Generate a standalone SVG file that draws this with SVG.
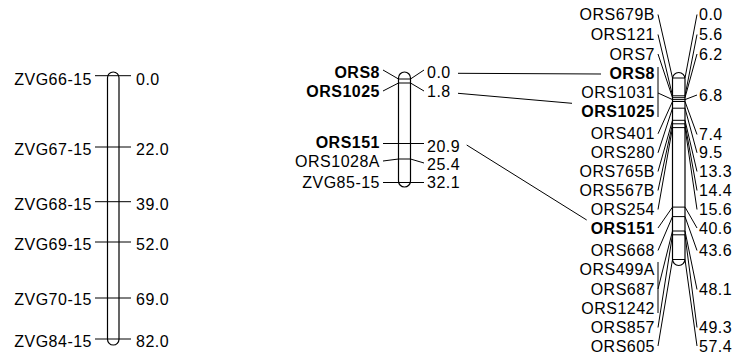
<svg xmlns="http://www.w3.org/2000/svg" width="736" height="357" viewBox="0 0 736 357">
<style>
text{font-family:"Liberation Sans",Arial,sans-serif;font-size:16px;letter-spacing:0.5px;fill:#000}
.b{font-weight:bold}
.e{text-anchor:end}
.chr{fill:#fff;stroke:#000;stroke-width:1.2}
.ln{stroke:#000;stroke-width:1;fill:none}
</style>
<rect width="736" height="357" fill="#fff"/>
<g id="chrom-left">
<rect class="chr" x="107.5" y="72" width="11.5" height="273" rx="5.75"/>
<path class="ln" d="M95 75.7H131M95 147H131M95 201.7H131M95 242H131M95 298H131M95 339H131"/>
<text class="e" x="92" y="84.5">ZVG66-15</text>
<text class="e" x="92" y="155">ZVG67-15</text>
<text class="e" x="92" y="209.5">ZVG68-15</text>
<text class="e" x="92" y="250">ZVG69-15</text>
<text class="e" x="92" y="305">ZVG70-15</text>
<text class="e" x="92" y="346.5">ZVG84-15</text>
<text x="136" y="84.5">0.0</text>
<text x="136" y="155">22.0</text>
<text x="136" y="209.5">39.0</text>
<text x="136" y="250">52.0</text>
<text x="136" y="305">69.0</text>
<text x="136" y="346.5">82.0</text>
</g>
<g id="chrom-mid">
<rect class="chr" x="398.5" y="72" width="12" height="115" rx="6"/>
<path class="ln" d="M383 70L398.5 79H410.5L424 70M383 91L398.5 83H410.5L424 91M383 143.5H424M383 161L398.5 159H410.5L424 163M383 182.5H424"/>
<text class="e b" x="380" y="78.3">ORS8</text>
<text class="e b" x="380" y="96.7">ORS1025</text>
<text class="e b" x="380" y="148.3">ORS151</text>
<text class="e" x="380" y="166.7">ORS1028A</text>
<text class="e" x="380" y="188.3">ZVG85-15</text>
<text x="427" y="78.3">0.0</text>
<text x="427" y="97.3">1.8</text>
<text x="427" y="151.7">20.9</text>
<text x="427" y="170">25.4</text>
<text x="427" y="188.3">32.1</text>
</g>
<g id="chrom-right">
<rect class="chr" x="672.5" y="72.5" width="12.5" height="193" rx="6.25"/>
<path class="ln" d="M672.5 78H685M672.5 95.8H685M672.5 97.7H685M672.5 99.6H685M672.5 101.5H685M672.5 108.2H685M672.5 120.3H685M672.5 123.8H685M672.5 127.6H685M672.5 207.1H685M672.5 216.6H685M672.5 231H685M672.5 234.8H685M672.5 259.5H685"/>
<path class="ln" d="M658 14.5L672.5 78M658 34.5L672.5 95.8M658 54L672.5 97.7M658 67V117M658 93L672.5 99.6M658 133.8L672.5 101.5M658 152.8L672.5 108.2M658 171.5L672.5 120.3M658 190.5L672.5 123.8M658 209.5L672.5 127.6M658 228L672.5 207.1M658 250.5L672.5 216.6M658 262V313M658 289L672.5 231M658 327.5L672.5 234.8M658 346L672.5 259.5"/>
<path class="ln" d="M685 78L697 14.5M685 95.8L697 34.5M685 97.7L697 54M685 99.6L697 95M685 101.5L697 134.5M685 108.2L697 152.8M685 120.3L697 171.5M685 123.8L697 190.5M685 127.6L697 209.5M685 207.1L697 228M685 216.6L697 250.5M685 231L697 289.5M685 234.8L697 327.5M685 259.5L697 346"/>
<g class="e">
<text class="e" x="655" y="20">ORS679B</text>
<text class="e" x="655" y="40">ORS121</text>
<text class="e" x="655" y="59.5">ORS7</text>
<text class="e b" x="655" y="78.5">ORS8</text>
<text class="e" x="655" y="98.3">ORS1031</text>
<text class="e b" x="655" y="117">ORS1025</text>
<text class="e" x="655" y="139.3">ORS401</text>
<text class="e" x="655" y="158.3">ORS280</text>
<text class="e" x="655" y="177">ORS765B</text>
<text class="e" x="655" y="196">ORS567B</text>
<text class="e" x="655" y="215">ORS254</text>
<text class="e b" x="655" y="233.5">ORS151</text>
<text class="e" x="655" y="256">ORS668</text>
<text class="e" x="655" y="275">ORS499A</text>
<text class="e" x="655" y="295">ORS687</text>
<text class="e" x="655" y="314">ORS1242</text>
<text class="e" x="655" y="333">ORS857</text>
<text class="e" x="655" y="351.5">ORS605</text>
</g>
<text x="699" y="20">0.0</text>
<text x="699" y="40">5.6</text>
<text x="699" y="59.5">6.2</text>
<text x="699" y="101">6.8</text>
<text x="699" y="140">7.4</text>
<text x="699" y="158.3">9.5</text>
<text x="699" y="177">13.3</text>
<text x="699" y="196">14.4</text>
<text x="699" y="215">15.6</text>
<text x="699" y="233.5">40.6</text>
<text x="699" y="256">43.6</text>
<text x="699" y="295">48.1</text>
<text x="699" y="333">49.3</text>
<text x="699" y="351.5">57.4</text>
</g>
<g id="connectors">
<path class="ln" d="M458 73.3L601 74M458 93.3L572 103.3M466.7 145L586.7 220"/>
</g>
</svg>
